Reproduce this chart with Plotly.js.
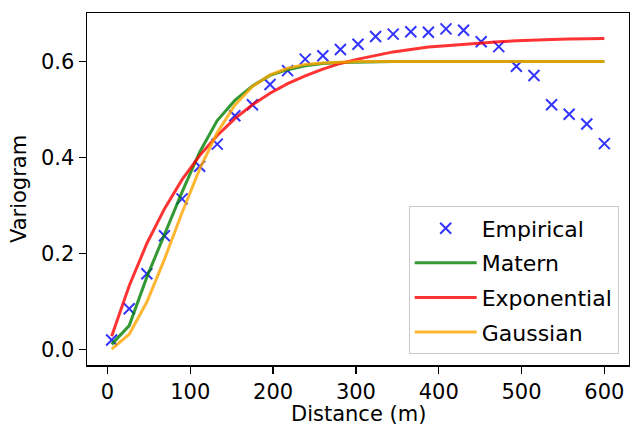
<!DOCTYPE html>
<html>
<head>
<meta charset="utf-8">
<script src="https://cdn.plot.ly/plotly-3.0.1.min.js"></script>
<style>html,body{margin:0;padding:0;background:#fff;}#chart{width:630px;height:427px;}</style>
</head>
<body>
<div id="chart"></div>
<script>
// Lag distances (m)
var distances = [5, 26.25, 47.5, 68.75, 90, 111.25, 132.5, 153.75, 175, 196.25, 217.5, 238.75, 260, 281.25, 302.5, 323.75, 345, 366.25, 387.5, 408.75, 430, 451.25, 472.5, 493.75, 515, 536.25, 557.5, 578.75, 600];
// Empirical variogram
var empirical = [0.020, 0.085, 0.158, 0.237, 0.314, 0.382, 0.428, 0.487, 0.510, 0.552, 0.581, 0.605, 0.612, 0.625, 0.636, 0.652, 0.657, 0.662, 0.661, 0.668, 0.665, 0.641, 0.631, 0.590, 0.571, 0.510, 0.490, 0.470, 0.429];
// Fitted models
var matern = [0.011, 0.050, 0.151, 0.240, 0.328, 0.411, 0.477, 0.519, 0.549, 0.571, 0.583, 0.591, 0.596, 0.598, 0.599, 0.600, 0.600, 0.600, 0.600, 0.600, 0.600, 0.600, 0.600, 0.600, 0.600, 0.600, 0.600, 0.600, 0.600];
var exponential = [0.028, 0.133, 0.221, 0.293, 0.354, 0.404, 0.446, 0.481, 0.510, 0.534, 0.554, 0.570, 0.584, 0.596, 0.605, 0.613, 0.620, 0.625, 0.630, 0.633, 0.636, 0.639, 0.641, 0.643, 0.645, 0.646, 0.647, 0.648, 0.648];
var gaussian = [0.001, 0.032, 0.099, 0.188, 0.285, 0.376, 0.452, 0.509, 0.548, 0.572, 0.586, 0.594, 0.597, 0.599, 0.600, 0.600, 0.600, 0.600, 0.600, 0.600, 0.600, 0.600, 0.600, 0.600, 0.600, 0.600, 0.600, 0.600, 0.600];
var xTicks = [0, 100, 200, 300, 400, 500, 600];
var yTicks = [0.0, 0.2, 0.4, 0.6];

var FONT = 'DejaVu Sans, sans-serif';
var traces = [
  {x: distances, y: empirical, name: 'Empirical', type: 'scatter', mode: 'markers', legendgroup: 'a',
   marker: {symbol: 'x-thin', size: 11, color: 'rgba(0,0,255,0.8)', line: {width: 2, color: 'rgba(0,0,255,0.8)'}}},
  {x: distances, y: matern, name: 'Matern', type: 'scatter', mode: 'lines', legendgroup: 'b',
   line: {color: 'rgba(0,128,0,0.8)', width: 3}},
  {x: distances, y: exponential, name: 'Exponential', type: 'scatter', mode: 'lines', legendgroup: 'c',
   line: {color: 'rgba(255,0,0,0.8)', width: 3}},
  {x: distances, y: gaussian, name: 'Gaussian', type: 'scatter', mode: 'lines', legendgroup: 'd',
   line: {color: 'rgba(255,165,0,0.8)', width: 3}}
];

var axisCommon = {
  showgrid: false, zeroline: false, showline: true, mirror: true,
  linecolor: '#000', linewidth: 1.5, ticks: 'outside', ticklen: 7, tickwidth: 1.5, tickcolor: '#000',
  tickfont: {family: FONT, size: 21, color: '#000'}
};

var layout = {
  width: 630, height: 427,
  margin: {l: 87, r: 1, t: 13, b: 62},
  paper_bgcolor: '#fff', plot_bgcolor: '#fff',
  font: {family: FONT, color: '#000'},
  xaxis: Object.assign({}, axisCommon, {
    range: [-24.75, 629.75], tickvals: xTicks, ticktext: xTicks.map(String)
  }),
  yaxis: Object.assign({}, axisCommon, {
    range: [-0.032, 0.701], tickvals: yTicks, ticktext: yTicks.map(function(v){return v.toFixed(1);}),
    title: {text: 'Variogram', font: {family: FONT, size: 21, color: '#000'}, standoff: 8}
  }),
  annotations: [{
    text: 'Distance (m)', xref: 'paper', yref: 'paper', x: 0.5, y: -0.1747,
    xanchor: 'center', yanchor: 'bottom', height: 20, valign: 'middle', showarrow: false,
    font: {family: FONT, size: 21, color: '#000'}
  }],
  showlegend: true,
  legend: {
    x: 0.981, y: 0.03, xanchor: 'right', yanchor: 'bottom',
    bgcolor: 'rgba(255,255,255,0.8)', bordercolor: '#cccccc', borderwidth: 1,
    font: {family: FONT, size: 22, color: '#000'},
    itemwidth: 62, tracegroupgap: 3, traceorder: 'grouped'
  }
};

Plotly.newPlot('chart', traces, layout, {displayModeBar: false, staticPlot: true});
</script>
</body>
</html>
